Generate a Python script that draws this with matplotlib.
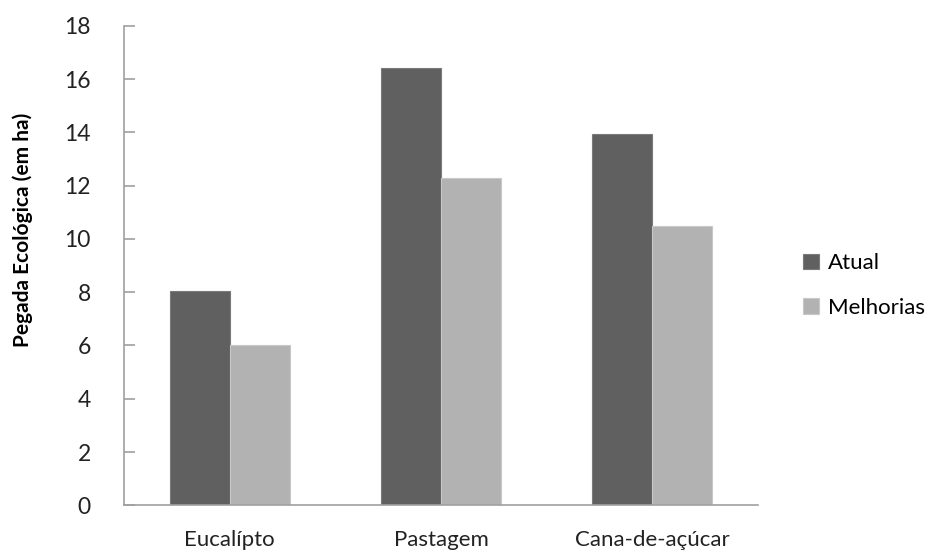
import matplotlib
matplotlib.use("Agg")
import matplotlib.pyplot as plt
import numpy as np

categories = ["Eucalípto", "Pastagem", "Cana-de-açúcar"]
atual = [8.05, 16.41, 13.95]
melhorias = [6.01, 12.27, 10.5]
series_names = ["Atual", "Melhorias"]
y_ticks = [0, 2, 4, 6, 8, 10, 12, 14, 16, 18]

plt.rcParams["font.family"] = ["Lato", "DejaVu Sans"]

fig = plt.figure(figsize=(9.33, 5.52), dpi=100)
ax = fig.add_axes([0.1329, 0.0846, 0.6795, 0.8688])

x = np.arange(len(categories))
w = 0.284
dark = "#606060"
light = "#b2b2b2"
b1 = ax.bar(x - w / 2, atual, w, color=dark, edgecolor="#7a7a7a", linewidth=0.8, label=series_names[0])
b2 = ax.bar(x + w / 2, melhorias, w, color=light, edgecolor="#c8c8c8", linewidth=0.8, label=series_names[1])

ax.set_xlim(-0.5, len(categories) - 0.5)
ax.set_ylim(0, 18)
ax.set_yticks(y_ticks)
ax.set_yticklabels([str(t) for t in y_ticks], fontsize=16.5, color="#222222")
ax.set_xticks(x)
ax.set_xticklabels(categories, fontsize=16, color="#222222")
ax.tick_params(axis="y", direction="in", length=8, width=1.2, color="#a0a0a0", pad=24)
ax.tick_params(axis="x", length=0, pad=18)

for s in ["top", "right"]:
    ax.spines[s].set_visible(False)
for s in ["left", "bottom"]:
    ax.spines[s].set_color("#a0a0a0")
    ax.spines[s].set_linewidth(1.2)

ax.set_ylabel("Pegada Ecológica (em ha)", fontsize=15, fontweight="bold")
ax.yaxis.set_label_coords(-0.1435, 0.574)

leg = fig.legend(handles=[b1, b2], labels=series_names, loc="center left",
                 bbox_to_anchor=(0.849, 0.483), frameon=False, fontsize=16,
                 handlelength=0.7, handleheight=0.7, handletextpad=0.4,
                 labelspacing=1.1, borderpad=0)

fig.savefig("out.png", dpi=100, facecolor="white")
